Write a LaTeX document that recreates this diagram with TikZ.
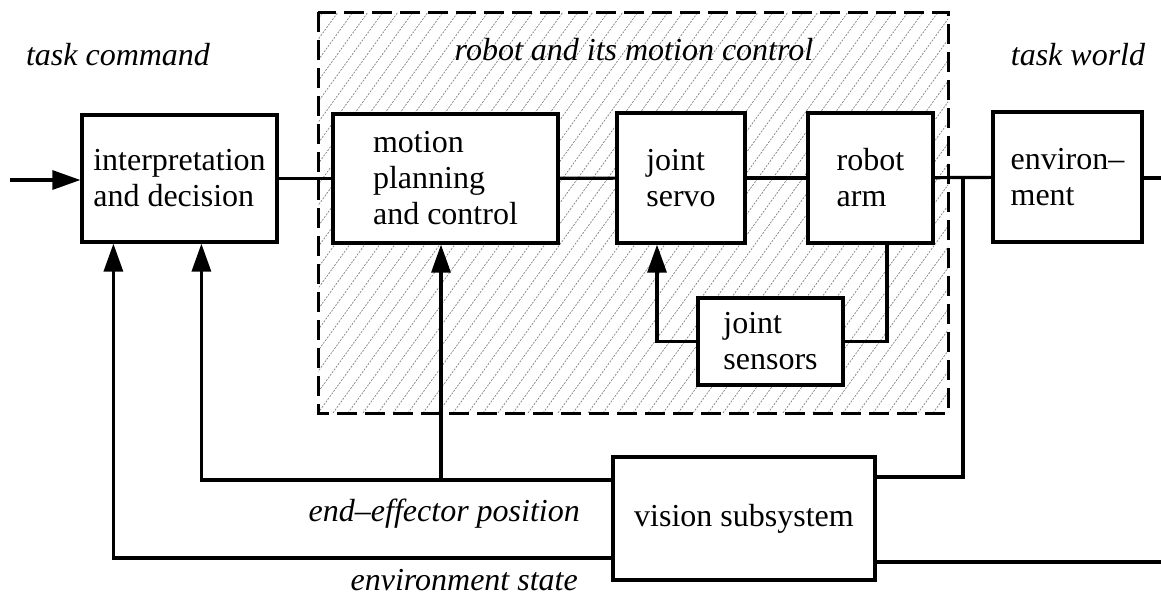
\documentclass[tikz,border=0pt]{standalone}
\usepackage{fontspec}
\setmainfont{Liberation Serif}
\usetikzlibrary{arrows.meta,calc}
\begin{document}
\begin{tikzpicture}[x=1pt,y=-1pt,
  blk/.style={draw,line width=3.2pt,fill=white,align=left,inner sep=0pt,
    font=\fontsize{32}{36}\selectfont},
  wire/.style={line width=3.2pt},
  arr/.style={wire,-{Triangle[length=28pt,width=19pt]}},
  lbl/.style={font=\fontsize{32}{37}\selectfont\itshape,inner sep=0pt},
  hatch/.style={gray,line width=0.7pt,dash pattern=on 2pt off 1.3pt},
  frame/.style={line width=3pt,dash pattern=on 20pt off 8pt}]
\useasboundingbox (0,0) rectangle (1161,600);
% hatched container
\begin{scope}
  \clip (318,12) rectangle (948,413);
  \foreach \i in {-300,-285,...,660}{
    \draw[hatch] (318+\i,413) -- (608+\i,12);
  }
\end{scope}
\draw[frame] (318,12) rectangle (948,413);
% blocks
\node[blk,minimum width=195pt,minimum height=127pt] (interp) at (179.5,178.5) {interpretation\\and decision};
\node[blk,minimum width=225pt,minimum height=129pt] (motion) at (445.5,178.5) {motion\\planning\\and control};
\node[blk,minimum width=128pt,minimum height=130pt] (servo) at (681,178) {joint\\servo};
\node[blk,minimum width=125pt,minimum height=130pt] (arm) at (870.5,178) {robot\\arm};
\node[blk,minimum width=149pt,minimum height=130pt] (env) at (1067.5,177) {environ--\\ment};
\node[blk,minimum width=145pt,minimum height=87pt] (sensors) at (770.5,341.5) {joint\\sensors};
\node[blk,minimum width=262pt,minimum height=123pt] (vision) at (744,518.5) {vision subsystem};
% labels
\node[lbl] (tc) at (118,55) {task command};
\node[lbl] (rc) at (634,50) {robot and its motion control};
\node[lbl] (tw) at (1078,55) {task world};
\node[lbl,anchor=east] (eep) at (580,514) {end--effector position};
\node[lbl,anchor=east] (est) at (578,580) {environment state};
% main chain
\coordinate (in) at (10,180);
\draw[arr] (in) -- (in -| interp.west);
\draw[wire] (interp) -- (motion);
\draw[wire] (motion) -- (servo);
\draw[wire] (servo) -- (arm);
\draw[wire] (arm) -- (env);
\coordinate (out) at (1161,178);
\draw[wire] (env.east |- out) -- (out);
% robot arm to vision
\coordinate (j1) at (963,178);
\draw[wire] (j1) |- ([yshift=41.5pt]vision.east);
% environment state into vision
\coordinate (envin) at (1161,562);
\draw[wire] (envin) -- (envin -| vision.east);
% joint sensor loop
\draw[wire] ([xshift=16.5pt]arm.south) |- (sensors.east);
\draw[arr] (sensors.west) -| ([xshift=-24pt]servo.south);
% end-effector feedback
\coordinate (ee) at ([yshift=38.5pt]vision.west);
\draw[arr] (ee) -| ($(interp.south west)+(121,0)$);
\coordinate (b1) at (ee -| 441,0);
\draw[arr] (b1) -- (b1 |- motion.south);
% environment state feedback
\coordinate (es) at ([yshift=-39.5pt]vision.west);
\draw[arr] (es) -| ($(interp.south west)+(33,0)$);
\end{tikzpicture}
\end{document}
